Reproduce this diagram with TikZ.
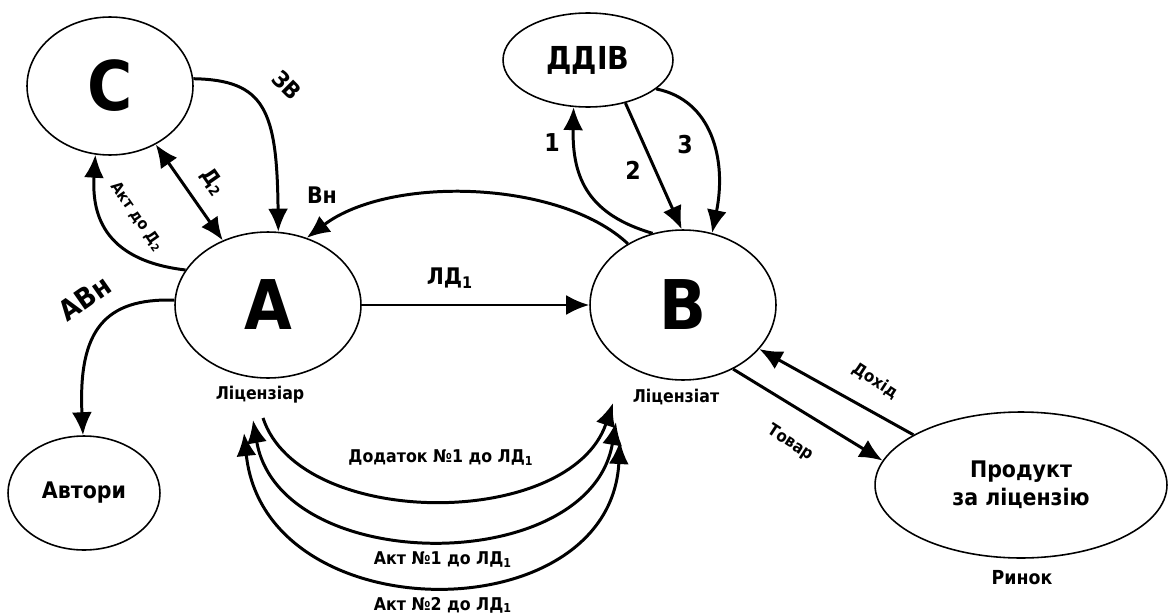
\documentclass[tikz,border=0pt]{standalone}
\usepackage{fontspec}
\setmainfont{DejaVu Sans Condensed}
\usetikzlibrary{shapes.geometric,arrows.meta}

\newcommand\fsz[1]{\fontsize{#1}{#1}\selectfont}

\tikzset{
  party/.style={ellipse, draw, line width=0.9pt, inner sep=0pt},
  flow/.style={line width=1.7pt, -{Latex[length=4.6mm,width=4mm]}},
  twoway/.style={line width=1.7pt, {Latex[length=4.6mm,width=4mm]}-{Latex[length=4.6mm,width=4mm]}},
  tag/.style={font=\bfseries\fsz{10}, inner sep=1pt},
}

\begin{document}
\begin{tikzpicture}[x=0.02cm, y=-0.02cm]
\useasboundingbox (0,0) rectangle (1168,615);
% parties
\node[party, minimum width=3.32cm, minimum height=2.76cm] (C) at (110,86) {\fsz{39}\bfseries С};
\node[party, minimum width=3.4cm, minimum height=1.88cm] (ddiv) at (588,60) {\fsz{18}\bfseries ДДІВ};
\node[party, minimum width=3.72cm, minimum height=2.92cm] (A) at (268,305) {\fsz{39}\bfseries А};
\node[party, minimum width=3.72cm, minimum height=3cm] (B) at (683,305) {\fsz{39}\bfseries В};
\node[party, minimum width=3.04cm, minimum height=2.28cm] (authors) at (84,493) {\fsz{13}\bfseries Автори};
\node[party, minimum width=5.84cm, minimum height=2.92cm, align=center] (product) at (1021,485)
  {\fsz{13}\bfseries Продукт\\[2pt]\fsz{13}\bfseries за ліцензію};
\node[tag] (licA) at (260,395) {Ліцензіар};
\node[tag] (licB) at (676,397) {Ліцензіат};
\node[tag, font=\bfseries\fsz{11}] (market) at (1022,578) {Ринок};

% flows
\draw[flow] (A.east) -- (B.west);
\draw[flow] (B.132) .. controls (560,180) and (390,175) .. (A.60);
\draw[flow] (C.5) .. controls (265,80) and (277,110) .. (A.82);
\draw[twoway] (C.-52) -- (A.125);
\draw[flow] (A.157) .. controls (100,260) and (92,210) .. (C.-102);
\draw[flow] (A.177) .. controls (105,298) and (78,330) .. (authors.91);
\draw[flow] (B.113) .. controls (590,215) and (572,180) .. (ddiv.-107);
\draw[flow] (ddiv.-49) -- (B.91);
\draw[flow] (ddiv.-23) .. controls (712,100) and (727,160) .. (B.68);
\draw[flow] (B.-52) -- (product.170);
\draw[flow] (product.155) -- (B.-30);

% documents between licensor and licensee
\coordinate (a1) at (263,418); \coordinate (b1) at (613,403);
\coordinate (a2) at (253,420); \coordinate (b2) at (616,422);
\coordinate (a3) at (244,433); \coordinate (b3) at (620,441);
\draw[flow] (a1) .. controls (300,530) and (570,530) .. (b1);
\foreach \s/\e/\cl/\cr/\cy in {a2/b2/280/590/577, a3/b3/265/610/633}
  \draw[twoway] (\s) .. controls (\cl,\cy) and (\cr,\cy) .. (\e);

% labels
\node[tag, font=\bfseries\fsz{13}] (ld1) at (450,278) {ЛД\textsubscript{1}};
\node[tag, font=\bfseries\fsz{13}] (vn) at (322,195) {Вн};
\node[tag, font=\bfseries\fsz{13}, rotate=-45] (zv) at (287,85) {ЗВ};
\node[tag, font=\bfseries\fsz{12}, rotate=-55] (d2) at (213,182) {Д\textsubscript{2}};
\node[tag, font=\bfseries\fsz{9}, rotate=-55] (actd2) at (137,217) {Акт до Д\textsubscript{2}};
\node[tag, font=\bfseries\fsz{16}, rotate=35] (avn) at (85,298) {АВн};
\node[tag, font=\bfseries\fsz{14}] (n1) at (552,143) {1};
\node[tag, font=\bfseries\fsz{14}] (n2) at (633,170) {2};
\node[tag, font=\bfseries\fsz{14}] (n3) at (685,145) {3};
\node[tag, font=\bfseries\fsz{9.5}, rotate=-33] (goods) at (790,443) {Товар};
\node[tag, font=\bfseries\fsz{9.5}, rotate=-33] (income) at (875,381) {Дохід};
\node[tag] (add1) at (441,458) {Додаток №1 до ЛД\textsubscript{1}};
\node[tag] (act1) at (443,560) {Акт №1 до ЛД\textsubscript{1}};
\node[tag] (act2) at (443,605) {Акт №2 до ЛД\textsubscript{1}};
\end{tikzpicture}
\end{document}
